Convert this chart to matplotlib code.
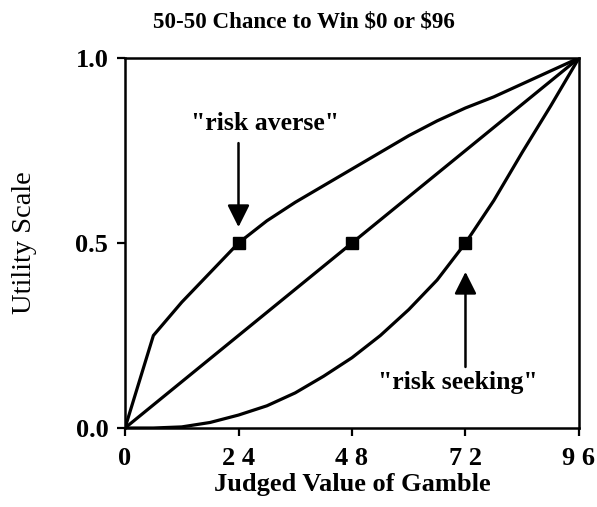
import matplotlib
matplotlib.use("Agg")
import matplotlib.pyplot as plt

# judged value of gamble (x) vs utility (y)
x_vals = [0, 6, 12, 18, 24, 30, 36, 42, 48, 54, 60, 66, 72, 78, 84, 90, 96]
averse = [0, 0.25, 0.34, 0.42, 0.5, 0.56, 0.61, 0.655, 0.70, 0.745, 0.79, 0.83, 0.865, 0.895, 0.93, 0.965, 1.0]
neutral_x = [0, 48, 96]
neutral = [0, 0.5, 1.0]
seeking = [0, 0, 0.003, 0.015, 0.035, 0.06, 0.095, 0.14, 0.19, 0.25, 0.32, 0.40, 0.5, 0.615, 0.745, 0.87, 1.0]

mark_x = [24, 48, 72]
mark_y = [0.5, 0.5, 0.5]

x_ticks = [0, 24, 48, 72, 96]
x_ticklabels = ["0", "2 4", "4 8", "7 2", "9 6"]
y_ticks = [0.0, 0.5, 1.0]
y_ticklabels = ["0.0", "0.5", "1.0"]

plt.rcParams["font.family"] = ["Liberation Serif", "DejaVu Serif"]
plt.rcParams["text.parse_math"] = False

fig = plt.figure(figsize=(5.97, 5.07), dpi=100)
ax = fig.add_axes([0.2094, 0.1558, 0.7604, 0.7298])

lw = 2.3
ax.plot(x_vals, averse, color="black", lw=lw)
ax.plot(neutral_x, neutral, color="black", lw=lw)
ax.plot(x_vals, seeking, color="black", lw=lw)
ax.plot(mark_x, mark_y, linestyle="none", marker="s", markersize=8.5, color="black")

ax.set_xlim(0, 96)
ax.set_ylim(0, 1)
ax.set_xticks(x_ticks)
ax.set_xticklabels(x_ticklabels, fontsize=19, fontweight="bold")
ax.set_yticks(y_ticks)
ax.set_yticklabels(y_ticklabels, fontsize=19, fontweight="bold")
ax.tick_params(axis="x", direction="out", length=6, width=1.6, pad=8)
ax.tick_params(axis="y", direction="out", length=6, width=1.6, pad=6)
for side in ax.spines.values():
    side.set_linewidth(1.8)

ax.set_xlabel("Judged Value of Gamble", fontsize=19, fontweight="bold", labelpad=2)
ax.set_ylabel("Utility Scale", fontsize=20.5, labelpad=28)
fig.text(304 / 597, 1 - 22 / 507, "50-50 Chance to Win $0 or $96", fontsize=16.6,
         fontweight="bold", ha="center", va="center")

# arrows and labels
arrow = dict(arrowstyle="-|>,head_width=0.45,head_length=0.9", mutation_scale=15,
             color="black", lw=1.8, shrinkA=0, shrinkB=0)
ax.annotate("", xy=(24, 0.543), xytext=(24, 0.770), arrowprops=arrow)
ax.annotate("", xy=(72, 0.422), xytext=(72, 0.165), arrowprops=arrow)
ax.text(29.6, 0.824, '"risk averse"', ha="center", va="center", fontsize=18.5, fontweight="bold")
ax.text(70.4, 0.124, '"risk seeking"', ha="center", va="center", fontsize=18.5, fontweight="bold")

fig.savefig("out.png", dpi=100)
